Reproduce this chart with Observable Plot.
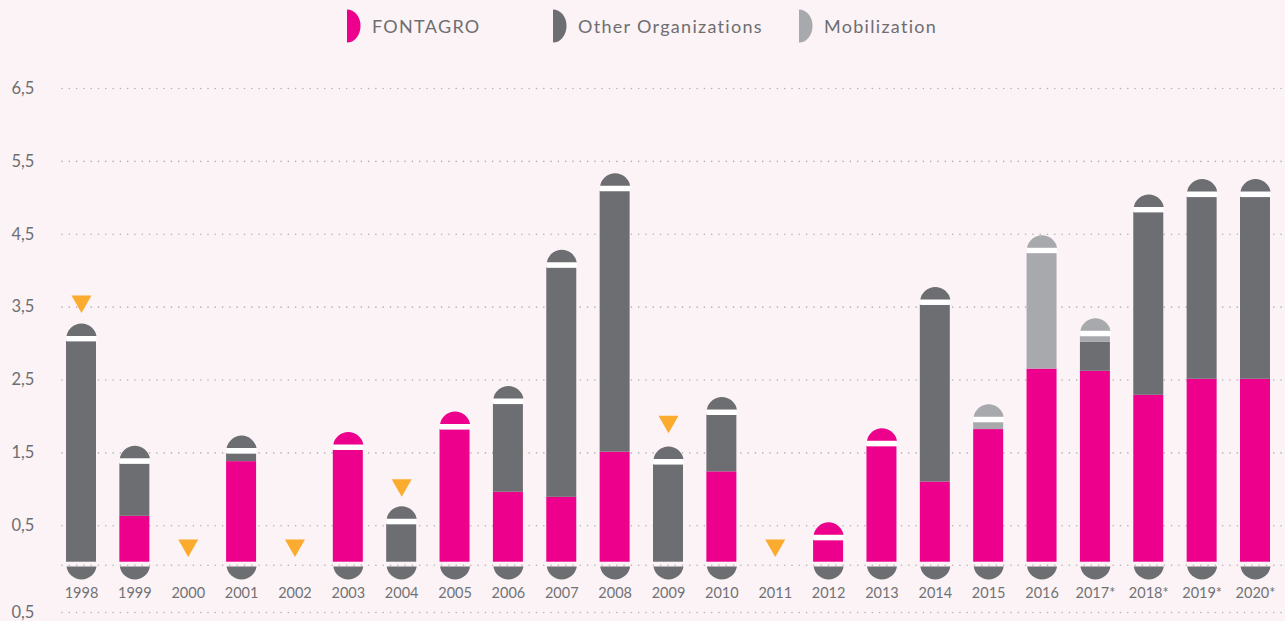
<!DOCTYPE html>
<html><head><meta charset="utf-8">
<script src="https://cdn.jsdelivr.net/npm/d3@7"></script>
<script src="https://cdn.jsdelivr.net/npm/@observablehq/plot@0.6"></script>
<style>
html,body{margin:0;padding:0;background:#fcf3f6;}
body{width:1285px;height:621px;overflow:hidden;font-family:Lato,"Open Sans",sans-serif;}
#legend{position:relative;height:56px;}
.item{position:absolute;top:9px;display:flex;align-items:center;height:34px;color:#6d6e71;font-size:18px;letter-spacing:1.3px;white-space:nowrap;}
.item svg{margin-right:11px;display:block;}
.item:nth-child(1){left:346px;}
.item:nth-child(2){left:552px;}
.item:nth-child(3){left:798px;}
#chart svg{display:block;background:transparent;}
</style></head><body>
<div id="legend"></div>
<div id="chart"></div>
<script>
const years = ["1998","1999","2000","2001","2002","2003","2004","2005","2006","2007","2008","2009","2010","2011","2012","2013","2014","2015","2016","2017*","2018*","2019*","2020*"];
const fontagro     = [0, 0.63, 0, 1.38, 0, 1.54, 0, 1.82, 0.96, 0.89, 1.51, 0, 1.24, 0, 0.30, 1.59, 1.10, 1.82, 2.65, 2.62, 2.29, 2.51, 2.51];
const others       = [3.03, 0.72, 0, 0.11, 0, 0, 0.52, 0, 1.21, 3.15, 3.58, 1.34, 0.78, 0, 0, 0, 2.43, 0, 0, 0.40, 2.51, 2.50, 2.50];
const mobilization = [0, 0, 0, 0, 0, 0, 0, 0, 0, 0, 0, 0, 0, 0, 0, 0, 0, 0.10, 1.59, 0.08, 0, 0, 0];
const seriesNames  = ["FONTAGRO", "Other Organizations", "Mobilization"];
const seriesColors = ["#ec008c", "#6d6e71", "#a7a9ac"];
const triangleYears  = ["1998", "2000", "2002", "2004", "2009", "2011"];
const triangleLevels = [3.54, 0.19, 0.19, 1.02, 1.89, 0.19];
const yTicks      = [6.5, 5.5, 4.5, 3.5, 2.5, 1.5, 0.5, -0.69];
const yTickLabels = ["6,5", "5,5", "4,5", "3,5", "2,5", "1,5", "0,5", "0,5"];

const seriesValues = [fontagro, others, mobilization];
const rows = [];
years.forEach((year, i) => seriesNames.forEach((s, k) => {
  if (seriesValues[k][i] > 0) rows.push({year, series: s, value: seriesValues[k][i]});
}));
const caps = [];
years.forEach((year, i) => {
  const total = fontagro[i] + others[i] + mobilization[i];
  if (total > 0) {
    let top = seriesNames[0];
    seriesNames.forEach((s, k) => { if (seriesValues[k][i] > 0) top = s; });
    caps.push({year, total, top});
  }
});
const triangles = triangleYears.map((year, i) => ({year, level: triangleLevels[i]}));

// Legend
const legend = document.getElementById("legend");
seriesNames.forEach((s, k) => {
  const div = document.createElement("div");
  div.className = "item";
  div.innerHTML = `<svg width="15" height="34"><path d="M1,0.5 A13.5,16.5 0 0 1 1,33.5 Z" fill="${seriesColors[k]}"/></svg><span>${s}</span>`;
  legend.appendChild(div);
});

// custom symbols
const HALF = 15;
function capSymbol(gap, h, dir) {
  return {draw(ctx) {
    const w = HALF, R = (w * w + h * h) / (2 * h);
    const cy = dir * (gap + h - R);
    const y0 = dir * gap;
    const a = Math.atan2(y0 - cy, w), b = Math.atan2(y0 - cy, -w);
    ctx.moveTo(-w, y0);
    ctx.arc(0, cy, R, b, a, dir > 0);
    ctx.closePath();
  }};
}
const gapSymbol = {draw(ctx) { ctx.rect(-HALF, -5.5, 2 * HALF, 5.5); }};
const triDown = {draw(ctx) { ctx.moveTo(-10, -8.75); ctx.lineTo(10, -8.75); ctx.lineTo(0, 8.75); ctx.closePath(); }};

const plot = Plot.plot({
  width: 1285,
  height: 565,
  marginLeft: 62,
  marginRight: 0,
  marginTop: 0,
  marginBottom: 0,
  style: {background: "transparent", fontFamily: "Lato, 'Open Sans', sans-serif"},
  x: {type: "band", domain: years, range: [66, 1270], paddingInner: 0.438, paddingOuter: 0, round: false, axis: null},
  y: {domain: [d3.min(yTicks), d3.max(yTicks)], range: [556, 32], axis: null},
  color: {domain: seriesNames, range: seriesColors},
  marks: [
    Plot.ruleY(yTicks, {stroke: "#b3b1b3", strokeWidth: 1.6, strokeDasharray: "0 7.3", strokeLinecap: "round"}),
    Plot.ruleY([0], {dy: 3, stroke: "#b3b1b3", strokeWidth: 1.6, strokeDasharray: "0 7.3", strokeLinecap: "round"}),
    Plot.barY(rows, {x: "year", y: "value", fill: "series", order: seriesNames}),
    Plot.dot(caps, {x: "year", y: "total", symbol: gapSymbol, fill: "#ffffff", stroke: "none"}),
    Plot.dot(caps, {x: "year", y: "total", symbol: capSymbol(5.5, 12.5, -1), fill: "top", stroke: "none"}),
    Plot.dot(caps, {x: "year", y: () => 0, symbol: capSymbol(4.3, 13, 1), fill: "#6d6e71", stroke: "none"}),
    Plot.dot(triangles, {x: "year", y: "level", symbol: triDown, fill: "#fbab2d", stroke: "none"}),
    Plot.text(years, {x: d => d, y: () => 0, dy: 31, text: d => d, fontSize: 14.5, fill: "#717275", lineAnchor: "middle", style: "letter-spacing:0.4px"}),
    Plot.text(yTicks, {y: d => d, text: (d, i) => yTickLabels[i], frameAnchor: "left", textAnchor: "start", dx: -51, fontSize: 16.5, fill: "#6d6e71", lineAnchor: "middle"})
  ]
});
document.getElementById("chart").appendChild(plot);
</script>
</body></html>
